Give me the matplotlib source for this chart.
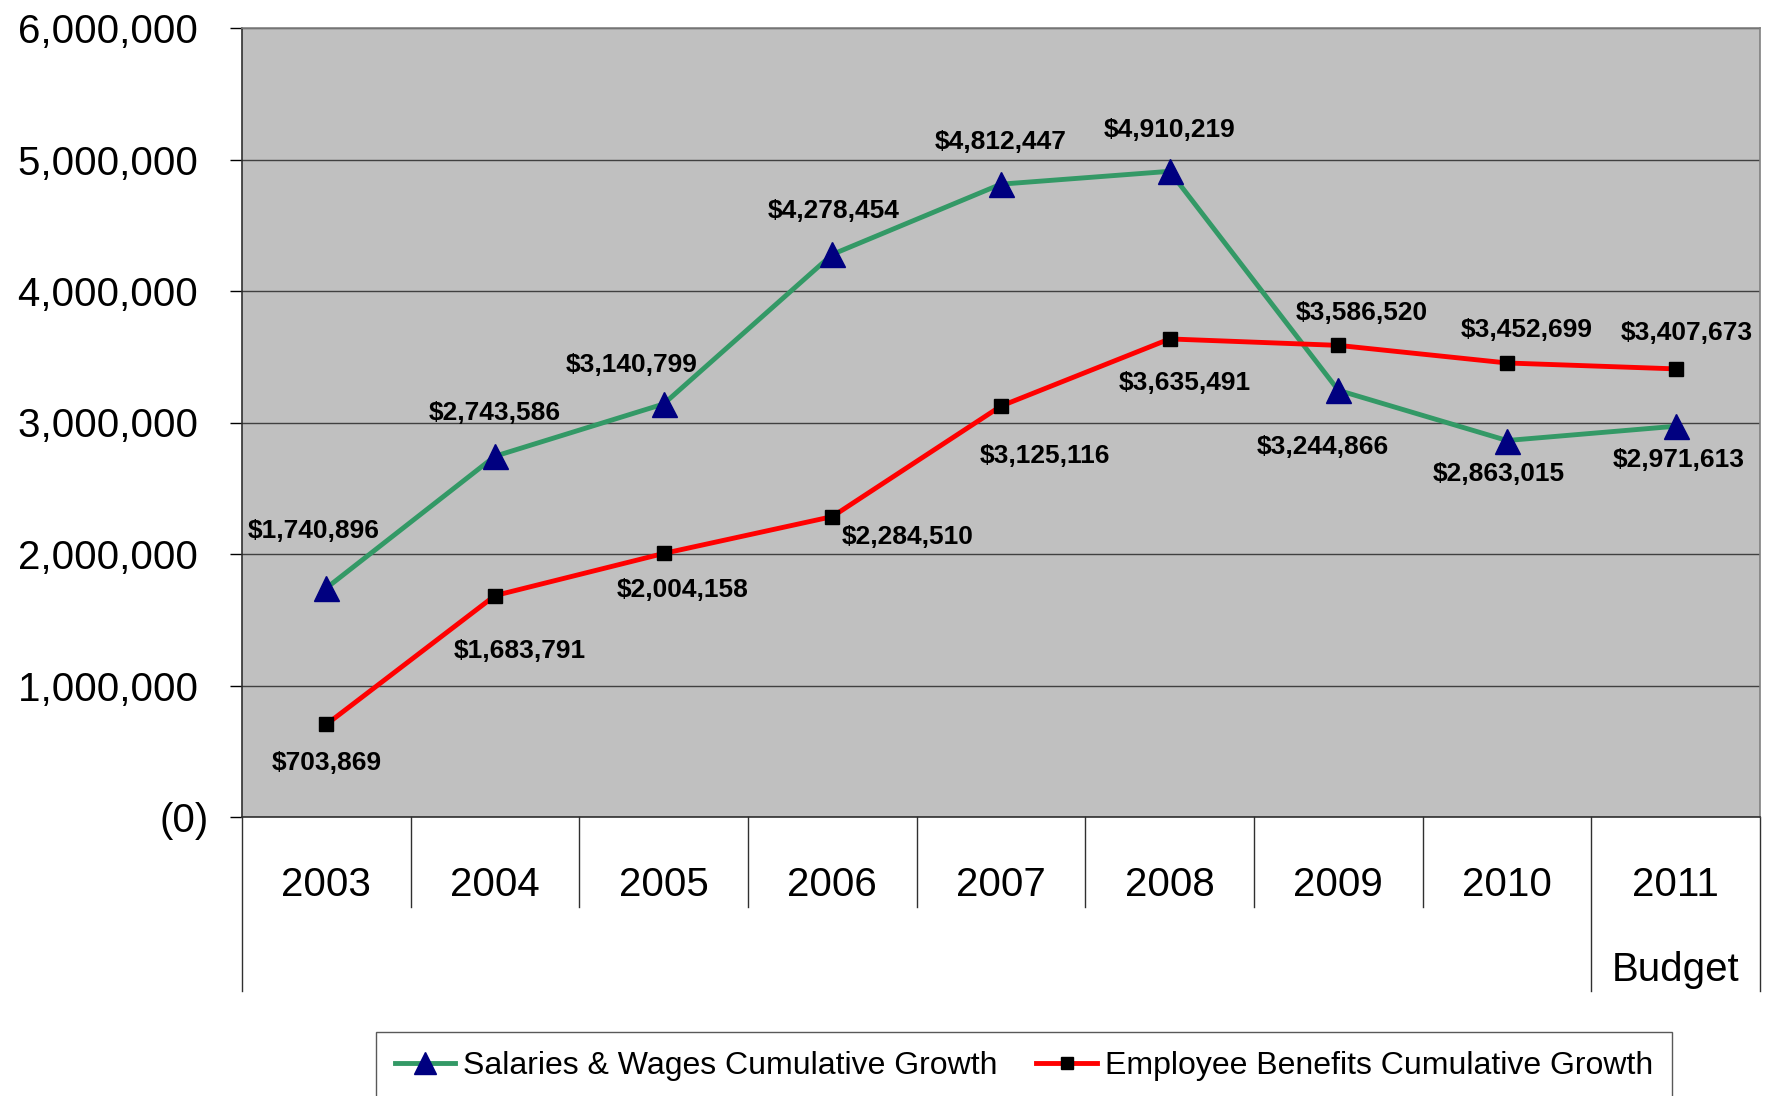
import matplotlib.pyplot as plt
from matplotlib.ticker import FuncFormatter
import matplotlib.transforms as mtransforms

plt.rcParams['font.family'] = ['Liberation Sans', 'DejaVu Sans']

# data
years = ['2003', '2004', '2005', '2006', '2007', '2008', '2009', '2010', '2011']
salaries = [1740896, 2743586, 3140799, 4278454, 4812447, 4910219, 3244866, 2863015, 2971613]
benefits = [703869, 1683791, 2004158, 2284510, 3125116, 3635491, 3586520, 3452699, 3407673]

# label offsets (points) for each data label
sal_offsets = [(-9, 41), (0, 31), (-23, 28), (1, 31), (0, 30), (0, 30), (-11, -41), (-6, -24), (2, -24)]
ben_offsets = [(0, -28), (18, -40), (14, -26), (54, -15), (32, -36), (11, -32), (17, 23), (14, 24), (8, 26)]

fig = plt.figure(figsize=(17.67, 10.96), dpi=100)
ax = fig.add_axes([242 / 1767, 1 - 817 / 1096, (1760 - 242) / 1767, (817 - 28) / 1096])
ax.set_facecolor('#C0C0C0')

x = list(range(len(years)))
sal_line, = ax.plot(x, salaries, color='#339966', lw=3.5, marker='^', ms=18,
                    mfc='#000080', mec='#000080', label='Salaries & Wages Cumulative Growth', zorder=3)
ben_line, = ax.plot(x, benefits, color='#FF0000', lw=3.5, marker='s', ms=10,
                    mfc='black', mec='black', label='Employee Benefits Cumulative Growth', zorder=3)

for i in x:
    ax.annotate(f'${salaries[i]:,}', (i, salaries[i]), xytext=sal_offsets[i],
                textcoords='offset points', ha='center', va='center',
                fontsize=19, fontweight='bold')
    ax.annotate(f'${benefits[i]:,}', (i, benefits[i]), xytext=ben_offsets[i],
                textcoords='offset points', ha='center', va='center',
                fontsize=19, fontweight='bold')

ax.set_xlim(-0.5, len(years) - 0.5)
ax.set_ylim(0, 6000000)
ax.set_yticks(range(0, 6000001, 1000000))
# positive numbers keep room for a ")" like the spreadsheet format does
ax.yaxis.set_major_formatter(FuncFormatter(lambda v, p: '(0)' if v == 0 else f'{int(v):,} '))
ax.tick_params(axis='y', labelsize=29, length=9, width=1, pad=15, direction='out')
ax.set_xticks([])
ax.grid(axis='y', color='#404040', lw=1)
ax.set_axisbelow(True)

for s in ['left', 'bottom']:
    ax.spines[s].set_color('#303030')
    ax.spines[s].set_linewidth(1.2)
for s in ['top', 'right']:
    ax.spines[s].set_color('#808080')
    ax.spines[s].set_linewidth(1.2)

# multi-level category axis
trans = mtransforms.blended_transform_factory(ax.transData, ax.transAxes)
for i in x:
    ax.text(i, -0.086, years[i], transform=trans, ha='center', va='center', fontsize=29)
ax.text(len(years) - 1, -0.194, 'Budget', transform=trans, ha='center', va='center', fontsize=29)
for b in range(1, len(years) - 1):
    ax.plot([b - 0.5, b - 0.5], [0, -0.114], transform=trans, color='#303030', lw=1, clip_on=False)
for b in [-0.5, len(years) - 1.5, len(years) - 0.5]:
    ax.plot([b, b], [0, -0.2205], transform=trans, color='#303030', lw=1, clip_on=False)

leg = fig.legend(handles=[sal_line, ben_line], loc='upper center',
                 bbox_to_anchor=(1024 / 1767, 1 - 1016 / 1096), ncol=2, fontsize=23,
                 frameon=True, fancybox=False, edgecolor='#303030', handlelength=1.9,
                 handletextpad=0.25, columnspacing=1.2, borderpad=0.6, markerscale=0.9)
leg.get_frame().set_linewidth(1)

fig.savefig('out.png', dpi=100, facecolor='white')
